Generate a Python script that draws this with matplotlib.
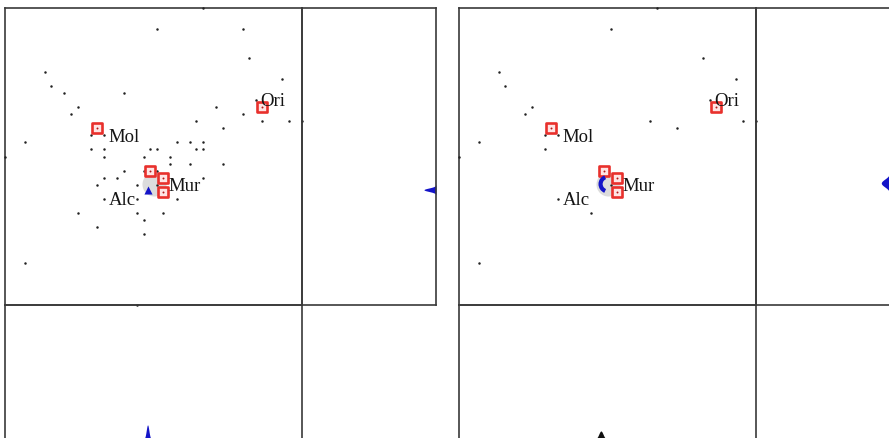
import numpy as np
import matplotlib
matplotlib.use("Agg")
import matplotlib.pyplot as plt
from matplotlib.patches import Arc

# ---- data (grid units: x across, y down) ----
left_x = [30, 23, 36, 37, 6, 42, 7, 9, 18, 38, 11, 32, 10, 36, 29, 39, 43, 45, 33,
          13, 15, 3, 26, 28, 30, 13, 15, 22, 23, 29, 30, 0, 15, 21, 25, 25, 28, 33,
          18, 21, 23, 15, 17, 30, 14, 20, 23, 15, 20, 26, 11, 20, 24, 21, 14, 21, 3, 20]
left_y = [0, 3, 3, 7, 9, 10, 11, 12, 12, 13, 14, 14, 15, 15, 16, 16, 16, 16, 17,
          18, 18, 19, 19, 19, 19, 20, 20, 20, 20, 20, 20, 21, 21, 21, 21, 22, 22, 22,
          23, 23, 23, 24, 24, 24, 25, 25, 25, 27, 27, 27, 29, 29, 29, 30, 31, 32, 36, 42]

right_x = [30, 23, 37, 6, 42, 7, 11, 10, 38, 29, 33, 43, 45, 3, 13, 15, 13, 0, 23, 15, 20, 3]
right_y = [0, 3, 7, 9, 10, 11, 14, 15, 13, 16, 17, 16, 16, 19, 18, 18, 20, 21, 25, 27, 29, 36]

square_x = [14, 39, 22, 24, 24]
square_y = [17, 14, 23, 24, 26]

label_text = ["Mol", "Ori", "Mur", "Alc"]
label_x = [15, 38, 24, 15]
label_y = [18, 13, 25, 27]

halo_x, halo_y = 22.6, 24.9

blue_left_x, blue_left_y = [21.6], [25.7]
blue_right_x, blue_right_y = [21.5], [24.75]

X_MAX, Y_MAX = 45, 42

# ---- layout helpers ----
W, H = 889, 438
fig = plt.figure(figsize=(W / 100, H / 100), dpi=100)
FRAME = "#3a3a3a"
LW = 1.2


def px_axes(x0, y_top, w, h):
    ax = fig.add_axes([x0 / W, (H - y_top - h) / H, w / W, h / H])
    ax.set_xticks([])
    ax.set_yticks([])
    for s in ax.spines.values():
        s.set_color(FRAME)
        s.set_linewidth(LW)
    ax.patch.set_alpha(0)
    return ax


def kde(grid, centers, bw):
    d = np.zeros_like(grid)
    for c in centers:
        d += np.exp(-0.5 * ((grid - c) / bw) ** 2)
    return d / d.max()


def panel(x0, px, py):
    ax = px_axes(x0, 8, 297, 297)
    ax.set_xlim(0, X_MAX)
    ax.set_ylim(Y_MAX, 0)
    ax.scatter([halo_x], [halo_y], s=300, color="#dcdcdc", linewidths=0, zorder=1)
    ax.scatter(px, py, s=3.2, color="#222222", linewidths=0, zorder=3, clip_on=False)
    ax.scatter(square_x, square_y, marker="s", s=42, facecolors="#ffe4e4",
               edgecolors="#e8302c", linewidths=1.9, zorder=4)
    ax.scatter(square_x, square_y, s=2.0, color="#b01818", linewidths=0, zorder=5)
    for t, lx, ly in zip(label_text, label_x, label_y):
        ax.annotate(t, (lx, ly), xytext=(3.5, -4.6), textcoords="offset points",
                    ha="left", va="baseline", fontsize=13.5,
                    family="Liberation Serif", color="#141414", zorder=6)
    return ax


# ---------- left figure ----------
axL = panel(5, left_x, left_y)
axL.scatter(blue_left_x, blue_left_y, marker="^", s=34, color="#1414c8",
            linewidths=0, zorder=5)

axLr = px_axes(302, 8, 134, 297)
yy = np.linspace(0, Y_MAX, 800)
dens = kde(yy, blue_left_y, 0.24)
axLr.fill_betweenx(yy, 0, dens, color="#1414c8", linewidth=0)
axLr.set_ylim(Y_MAX, 0)
axLr.set_xlim(1 / 0.09, 0)

axLb = px_axes(5, 305, 297, 134)
xx = np.linspace(0, X_MAX, 800)
dens = kde(xx, blue_left_x, 0.2)
axLb.fill_between(xx, 0, dens, color="#1414c8", linewidth=0)
axLb.set_xlim(0, X_MAX)
axLb.set_ylim(0, 1 / 0.105)

# ---------- right figure ----------
axR = panel(459, right_x, right_y)
axR.add_patch(Arc((halo_x, halo_y), 2.3, 2.1, theta1=115, theta2=245,
                  color="#1414c8", linewidth=3.0, zorder=5))

axRr = px_axes(756, 8, 134, 297)
dens = kde(yy, blue_right_y, 0.55)
axRr.fill_betweenx(yy, 0, dens, color="#1414c8", linewidth=0)
axRr.set_ylim(Y_MAX, 0)
axRr.set_xlim(1 / 0.065, 0)

axRb = px_axes(459, 305, 297, 134)
dens = kde(xx, blue_right_x, 0.32)
axRb.fill_between(xx, 0, dens, color="#111111", linewidth=0)
axRb.set_xlim(0, X_MAX)
axRb.set_ylim(0, 1 / 0.06)

fig.savefig("out.png", dpi=100)
